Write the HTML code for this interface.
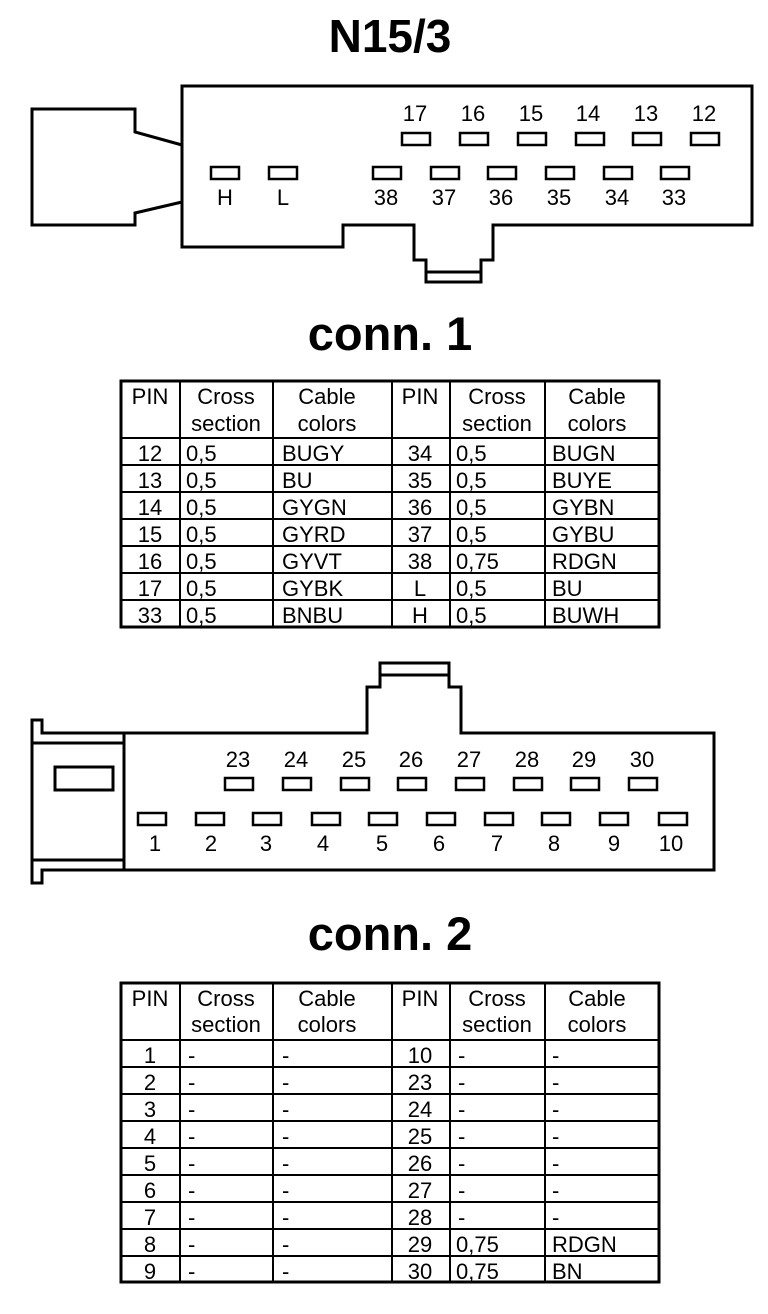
<!DOCTYPE html>
<html><head><meta charset="utf-8"><style>
html,body{margin:0;padding:0;background:#fff}
svg{display:block}
text{font-family:"Liberation Sans",Arial,sans-serif;fill:#000}
</style></head><body>
<svg width="768" height="1314" viewBox="0 0 768 1314" xmlns="http://www.w3.org/2000/svg">
<!-- Titles -->
<text x="390" y="52" font-size="46" font-weight="bold" text-anchor="middle">N15/3</text>
<text x="390" y="350" font-size="47" font-weight="bold" text-anchor="middle">conn. 1</text>
<text x="390" y="950" font-size="47" font-weight="bold" text-anchor="middle">conn. 2</text>

<!-- Connector 1 -->
<g fill="none" stroke="#000" stroke-width="3" stroke-linejoin="miter">
<path d="M182,86 L752,86 L752,225 L493,225 L493,260 L481,260 L481,282 L426,282 L426,260 L414,260 L414,225 L343,225 L343,247 L182,247 Z"/>
<line x1="426" y1="272" x2="481" y2="272"/>
<path d="M182,145 L135,132 L135,109 L32,109 L32,225 L135,225 L135,213 L182,202"/>
</g>
<g fill="none" stroke="#000" stroke-width="2.5">
<rect x="402" y="133" width="28" height="12"/>
<rect x="460" y="133" width="28" height="12"/>
<rect x="518" y="133" width="28" height="12"/>
<rect x="576" y="133" width="28" height="12"/>
<rect x="633" y="133" width="28" height="12"/>
<rect x="691" y="133" width="28" height="12"/>
<rect x="211" y="167" width="28" height="12"/>
<rect x="269" y="167" width="28" height="12"/>
<rect x="373" y="167" width="28" height="12"/>
<rect x="431" y="167" width="28" height="12"/>
<rect x="488" y="167" width="28" height="12"/>
<rect x="546" y="167" width="28" height="12"/>
<rect x="604" y="167" width="28" height="12"/>
<rect x="661" y="167" width="28" height="12"/>
</g>
<g font-size="22" text-anchor="middle">
<text x="415" y="121">17</text><text x="473" y="121">16</text><text x="531" y="121">15</text>
<text x="588" y="121">14</text><text x="646" y="121">13</text><text x="704" y="121">12</text>
<text x="225" y="205">H</text><text x="283" y="205">L</text>
<text x="386" y="205">38</text><text x="444" y="205">37</text><text x="501" y="205">36</text>
<text x="559" y="205">35</text><text x="617" y="205">34</text><text x="674" y="205">33</text>
</g>

<!-- Table 1 -->
<g stroke="#000" fill="none">
<rect x="121" y="381" width="538" height="246" stroke-width="3"/>
<g stroke-width="2">
<line x1="180" y1="381" x2="180" y2="627"/><line x1="273" y1="381" x2="273" y2="627"/>
<line x1="392" y1="381" x2="392" y2="627"/><line x1="450" y1="381" x2="450" y2="627"/>
<line x1="545" y1="381" x2="545" y2="627"/>
<line x1="121" y1="438" x2="659" y2="438"/><line x1="121" y1="465" x2="659" y2="465"/>
<line x1="121" y1="492" x2="659" y2="492"/><line x1="121" y1="519" x2="659" y2="519"/>
<line x1="121" y1="546" x2="659" y2="546"/><line x1="121" y1="573" x2="659" y2="573"/>
<line x1="121" y1="600" x2="659" y2="600"/>
</g></g>
<g font-size="22">
<text x="150" y="404" text-anchor="middle">PIN</text>
<text x="226" y="404" text-anchor="middle">Cross</text><text x="226" y="431" text-anchor="middle">section</text>
<text x="327" y="404" text-anchor="middle">Cable</text><text x="327" y="431" text-anchor="middle">colors</text>
<text x="420" y="404" text-anchor="middle">PIN</text>
<text x="497" y="404" text-anchor="middle">Cross</text><text x="497" y="431" text-anchor="middle">section</text>
<text x="597" y="404" text-anchor="middle">Cable</text><text x="597" y="431" text-anchor="middle">colors</text>
<g text-anchor="middle">
<text x="150" y="461">12</text><text x="150" y="488">13</text><text x="150" y="515">14</text><text x="150" y="542">15</text><text x="150" y="569">16</text><text x="150" y="596">17</text><text x="150" y="623">33</text>
<text x="420" y="461">34</text><text x="420" y="488">35</text><text x="420" y="515">36</text><text x="420" y="542">37</text><text x="420" y="569">38</text><text x="420" y="596">L</text><text x="420" y="623">H</text>
</g>
<text x="186" y="461">0,5</text><text x="186" y="488">0,5</text><text x="186" y="515">0,5</text><text x="186" y="542">0,5</text><text x="186" y="569">0,5</text><text x="186" y="596">0,5</text><text x="186" y="623">0,5</text>
<text x="282" y="461">BUGY</text><text x="282" y="488">BU</text><text x="282" y="515">GYGN</text><text x="282" y="542">GYRD</text><text x="282" y="569">GYVT</text><text x="282" y="596">GYBK</text><text x="282" y="623">BNBU</text>
<text x="456" y="461">0,5</text><text x="456" y="488">0,5</text><text x="456" y="515">0,5</text><text x="456" y="542">0,5</text><text x="456" y="569">0,75</text><text x="456" y="596">0,5</text><text x="456" y="623">0,5</text>
<text x="552" y="461">BUGN</text><text x="552" y="488">BUYE</text><text x="552" y="515">GYBN</text><text x="552" y="542">GYBU</text><text x="552" y="569">RDGN</text><text x="552" y="596">BU</text><text x="552" y="623">BUWH</text>
</g>

<!-- Connector 2 -->
<g fill="none" stroke="#000" stroke-width="3">
<path d="M42,733 L367,733 L367,687 L380,687 L380,663 L449,663 L449,687 L461,687 L461,733 L714,733 L714,870 L42,870 L42,883 L32,883 L32,720 L42,720 Z"/>
<line x1="380" y1="675" x2="449" y2="675"/>
<line x1="124" y1="733" x2="124" y2="870"/>
<line x1="32" y1="743" x2="124" y2="743"/>
<line x1="32" y1="860" x2="124" y2="860"/>
<rect x="55" y="767" width="58" height="23"/>
</g>
<g fill="none" stroke="#000" stroke-width="2.5">
<rect x="225" y="778" width="28" height="12"/><rect x="283" y="778" width="28" height="12"/>
<rect x="341" y="778" width="28" height="12"/><rect x="398" y="778" width="28" height="12"/>
<rect x="456" y="778" width="28" height="12"/><rect x="514" y="778" width="28" height="12"/>
<rect x="571" y="778" width="28" height="12"/><rect x="629" y="778" width="28" height="12"/>
<rect x="138" y="813" width="28" height="12"/><rect x="196" y="813" width="28" height="12"/>
<rect x="253" y="813" width="28" height="12"/><rect x="312" y="813" width="28" height="12"/>
<rect x="369" y="813" width="28" height="12"/><rect x="427" y="813" width="28" height="12"/>
<rect x="485" y="813" width="28" height="12"/><rect x="542" y="813" width="28" height="12"/>
<rect x="600" y="813" width="28" height="12"/><rect x="659" y="813" width="28" height="12"/>
</g>
<g font-size="22" text-anchor="middle">
<text x="238" y="767">23</text><text x="296" y="767">24</text><text x="354" y="767">25</text><text x="411" y="767">26</text>
<text x="469" y="767">27</text><text x="527" y="767">28</text><text x="584" y="767">29</text><text x="642" y="767">30</text>
<text x="155" y="851">1</text><text x="211" y="851">2</text><text x="266" y="851">3</text><text x="323" y="851">4</text>
<text x="382" y="851">5</text><text x="439" y="851">6</text><text x="497" y="851">7</text><text x="554" y="851">8</text>
<text x="614" y="851">9</text><text x="671" y="851">10</text>
</g>

<!-- Table 2 -->
<g stroke="#000" fill="none">
<rect x="121" y="983" width="538" height="299" stroke-width="3"/>
<g stroke-width="2">
<line x1="180" y1="983" x2="180" y2="1282"/><line x1="273" y1="983" x2="273" y2="1282"/>
<line x1="392" y1="983" x2="392" y2="1282"/><line x1="450" y1="983" x2="450" y2="1282"/>
<line x1="545" y1="983" x2="545" y2="1282"/>
<line x1="121" y1="1040" x2="659" y2="1040"/><line x1="121" y1="1067" x2="659" y2="1067"/>
<line x1="121" y1="1094" x2="659" y2="1094"/><line x1="121" y1="1121" x2="659" y2="1121"/>
<line x1="121" y1="1148" x2="659" y2="1148"/><line x1="121" y1="1175" x2="659" y2="1175"/>
<line x1="121" y1="1202" x2="659" y2="1202"/><line x1="121" y1="1229" x2="659" y2="1229"/>
<line x1="121" y1="1256" x2="659" y2="1256"/>
</g></g>
<g font-size="22">
<text x="150" y="1006" text-anchor="middle">PIN</text>
<text x="226" y="1006" text-anchor="middle">Cross</text><text x="226" y="1032" text-anchor="middle">section</text>
<text x="327" y="1006" text-anchor="middle">Cable</text><text x="327" y="1032" text-anchor="middle">colors</text>
<text x="420" y="1006" text-anchor="middle">PIN</text>
<text x="497" y="1006" text-anchor="middle">Cross</text><text x="497" y="1032" text-anchor="middle">section</text>
<text x="597" y="1006" text-anchor="middle">Cable</text><text x="597" y="1032" text-anchor="middle">colors</text>
<g text-anchor="middle">
<text x="150" y="1063">1</text><text x="150" y="1090">2</text><text x="150" y="1117">3</text><text x="150" y="1144">4</text><text x="150" y="1171">5</text><text x="150" y="1198">6</text><text x="150" y="1225">7</text><text x="150" y="1252">8</text><text x="150" y="1279">9</text>
<text x="420" y="1063">10</text><text x="420" y="1090">23</text><text x="420" y="1117">24</text><text x="420" y="1144">25</text><text x="420" y="1171">26</text><text x="420" y="1198">27</text><text x="420" y="1225">28</text><text x="420" y="1252">29</text><text x="420" y="1279">30</text>
</g>
<text x="188" y="1063">-</text><text x="188" y="1090">-</text><text x="188" y="1117">-</text><text x="188" y="1144">-</text><text x="188" y="1171">-</text><text x="188" y="1198">-</text><text x="188" y="1225">-</text><text x="188" y="1252">-</text><text x="188" y="1279">-</text>
<text x="282" y="1063">-</text><text x="282" y="1090">-</text><text x="282" y="1117">-</text><text x="282" y="1144">-</text><text x="282" y="1171">-</text><text x="282" y="1198">-</text><text x="282" y="1225">-</text><text x="282" y="1252">-</text><text x="282" y="1279">-</text>
<text x="458" y="1063">-</text><text x="458" y="1090">-</text><text x="458" y="1117">-</text><text x="458" y="1144">-</text><text x="458" y="1171">-</text><text x="458" y="1198">-</text><text x="458" y="1225">-</text><text x="456" y="1252">0,75</text><text x="456" y="1279">0,75</text>
<text x="552" y="1063">-</text><text x="552" y="1090">-</text><text x="552" y="1117">-</text><text x="552" y="1144">-</text><text x="552" y="1171">-</text><text x="552" y="1198">-</text><text x="552" y="1225">-</text><text x="552" y="1252">RDGN</text><text x="552" y="1279">BN</text>
</g>
</svg>
</body></html>
